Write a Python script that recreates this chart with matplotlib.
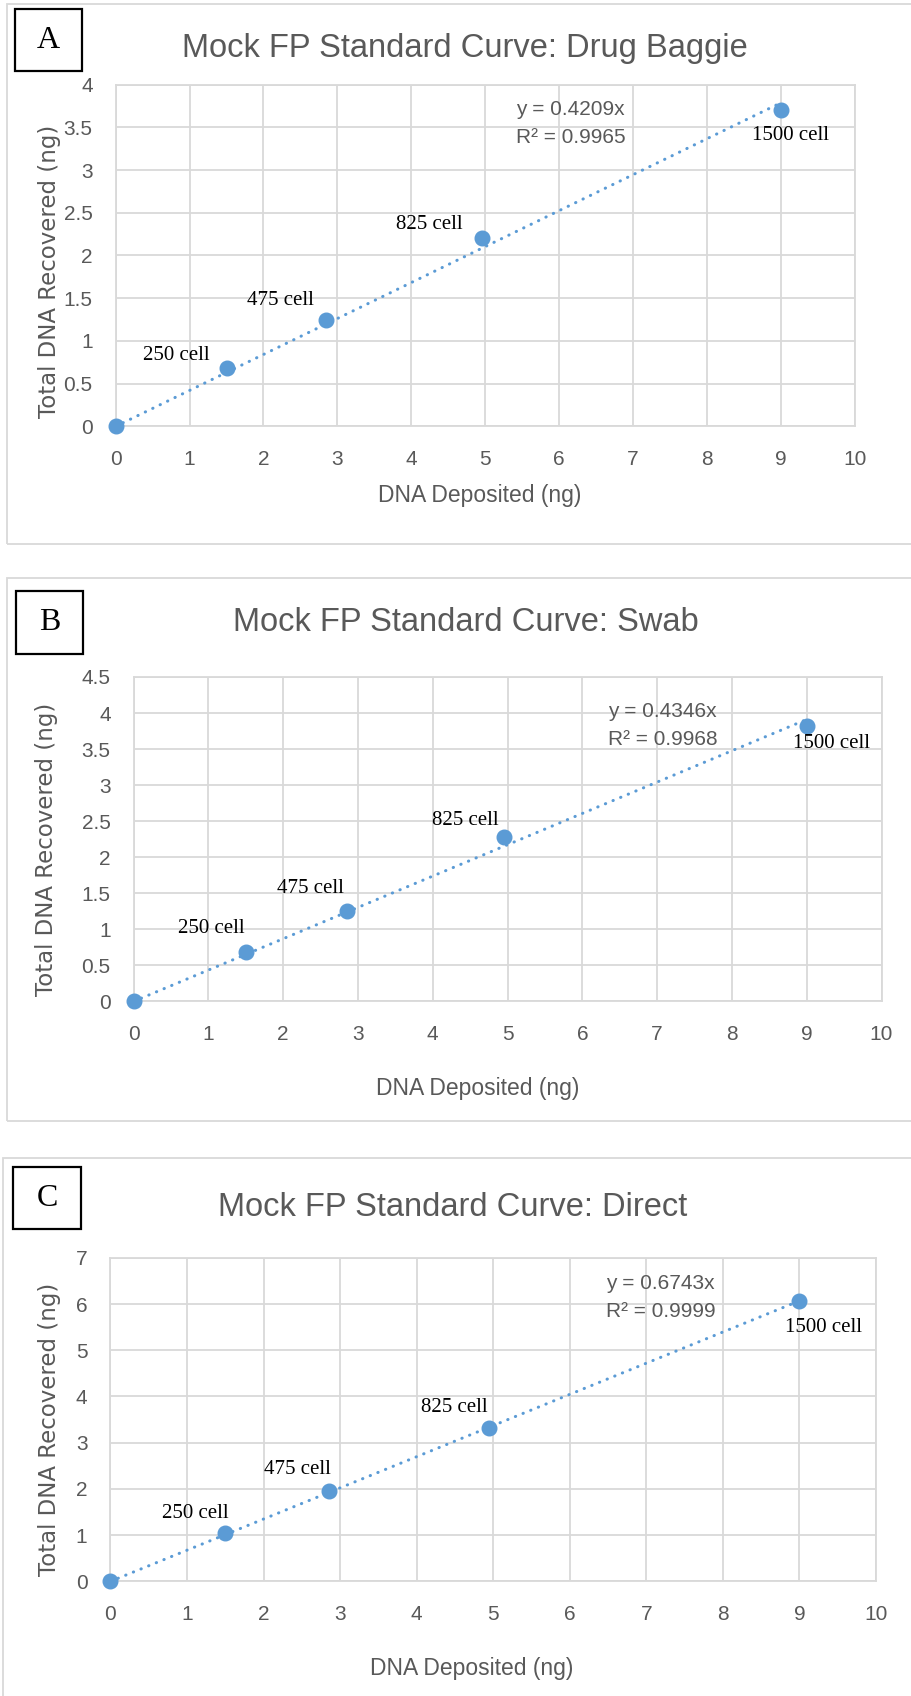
import matplotlib
matplotlib.use('Agg')
import matplotlib.pyplot as plt
from matplotlib.patches import Rectangle
from matplotlib.ticker import FuncFormatter
import numpy as np

W, H, DPI = 911, 1696, 100

# ---------------- data ----------------
deposited = [0, 1.5, 2.85, 4.95, 9.0]
cell_labels = ['', '250 cell', '475 cell', '825 cell', '1500 cell']
baggie = [0, 0.68, 1.25, 2.21, 3.70]
swab = [0, 0.69, 1.26, 2.28, 3.82]
direct = [0, 1.04, 1.955, 3.32, 6.07]
series = [baggie, swab, direct]
slopes = [0.4209, 0.4346, 0.6743]
r_squared = [0.9965, 0.9968, 0.9999]
titles = ['Mock FP Standard Curve: Drug Baggie',
          'Mock FP Standard Curve: Swab',
          'Mock FP Standard Curve: Direct']
panel_letters = ['A', 'B', 'C']
y_max = [4, 4.5, 7]
y_step = [0.5, 0.5, 1]
x_ticks = list(range(0, 11))
x_label = 'DNA Deposited (ng)'
y_label = 'Total DNA Recovered (ng)'

# ---------------- layout (pixels) ----------------
axes_px = [(115.6, 84.6, 855, 426.4), (133.6, 677, 881.5, 1001.4), (110.4, 1257.8, 876, 1581.4)]
border_px = [(7, 4, 916, 544), (7, 578, 916, 1121), (3, 1158, 916, 1702)]
letter_px = [(14.5, 9, 82, 71), (15.7, 591, 83, 654), (13, 1167, 81, 1229)]
title_px = [(465, 48), (465.5, 622.5), (452.6, 1207)]
eq_pos = [(5.42, 3.711), (6.34, 4.017), (6.47, 6.444)]
eq_line_gap = 28
ylab_coords = [(-0.0895, 0.455), (-0.1165, 0.47), (-0.0797, 0.469)]
xlab_coords = [(0.493, -0.2036), (0.46, -0.2688), (0.472, -0.2707)]
label_offsets = [
    [None, (-50, 13), (-46, 18.6), (-52, 13), (9, -25)],
    [None, (-34, 23), (-36, 22), (-38, 17), (24.5, -17)],
    [None, (-30, 19.5), (-31, 22), (-35, 20.6), (24, -27)],
]

GRAY = '#595959'
GRID = '#d9d9d9'
BLUE = '#5B9BD5'
SANS = ['Liberation Sans', 'DejaVu Sans']
SERIF = ['Liberation Serif', 'DejaVu Serif']

fig = plt.figure(figsize=(W / DPI, H / DPI), dpi=DPI)
fig.patch.set_facecolor('white')


def frac(x0, y0, x1, y1):
    return [x0 / W, 1 - y1 / H, (x1 - x0) / W, (y1 - y0) / H]


for i in range(3):
    # panel border
    b = frac(*border_px[i])
    fig.patches.append(Rectangle((b[0], b[1]), b[2], b[3], transform=fig.transFigure,
                                 fill=False, edgecolor=GRID, lw=1.3, zorder=0))
    # letter box
    lb = frac(*letter_px[i])
    fig.patches.append(Rectangle((lb[0], lb[1]), lb[2], lb[3], transform=fig.transFigure,
                                 fill=False, edgecolor='black', lw=1.6, zorder=5))
    fig.text(lb[0] + lb[2] / 2, lb[1] + lb[3] / 2, panel_letters[i], ha='center', va='center',
             fontsize=23, family=SERIF, color='black')
    # title
    tx, ty = title_px[i]
    fig.text(tx / W, 1 - ty / H, titles[i], ha='center', va='center', fontsize=23.5,
             family=SANS, color=GRAY)

    ax = fig.add_axes(frac(*axes_px[i]))
    ys = series[i]
    ax.set_xlim(0, 10)
    ax.set_ylim(0, y_max[i])
    ax.set_xticks(x_ticks)
    ax.set_yticks(np.arange(0, y_max[i] + 1e-9, y_step[i]))
    ax.yaxis.set_major_formatter(FuncFormatter(lambda v, p: f'{v:g}'))
    ax.grid(True, color=GRID, lw=1.3)
    ax.set_axisbelow(True)
    for s in ax.spines.values():
        s.set_color(GRID)
        s.set_linewidth(1.3)
    ax.tick_params(axis='both', length=0, labelsize=15, labelcolor=GRAY)
    ax.tick_params(axis='x', pad=17)
    ax.tick_params(axis='y', pad=16.5)
    for lab in ax.get_xticklabels() + ax.get_yticklabels():
        lab.set_family(SANS)

    # trendline
    xs = np.linspace(0, max(deposited), 60)
    ax.plot(xs, slopes[i] * xs, color=BLUE, lw=2.2, ls=(0, (0.1, 2.6)),
            dash_capstyle='round', zorder=2, clip_on=False)
    # points
    ax.plot(deposited, ys, 'o', color=BLUE, ms=10.5, zorder=3, clip_on=False)
    # labels
    for j, lab in enumerate(cell_labels):
        if not lab:
            continue
        ax.annotate(lab, (deposited[j], ys[j]), xytext=label_offsets[i][j],
                    textcoords='offset pixels', ha='center', va='center',
                    fontsize=15, family=SERIF, color='black', zorder=4)
    # equation
    ax.annotate(f'y = {slopes[i]:.4f}x', eq_pos[i], xytext=(0, 0), textcoords='offset pixels',
                ha='left', va='center', fontsize=15, family=SANS, color=GRAY)
    ax.annotate(f'R² = {r_squared[i]:.4f}', eq_pos[i], xytext=(0, -eq_line_gap),
                textcoords='offset pixels',
                ha='left', va='center', fontsize=15, family=SANS, color=GRAY)

    ax.set_xlabel(x_label, fontsize=16.5, family=SANS, color=GRAY)
    ax.xaxis.set_label_coords(*xlab_coords[i])
    ax.xaxis.label.set_va('center')
    ax.set_ylabel(y_label, fontsize=16.5, family=['DejaVu Sans'], color=GRAY)
    ax.yaxis.set_label_coords(*ylab_coords[i])
    ax.yaxis.label.set_va('center')

fig.savefig('out.png', dpi=DPI, facecolor='white')
